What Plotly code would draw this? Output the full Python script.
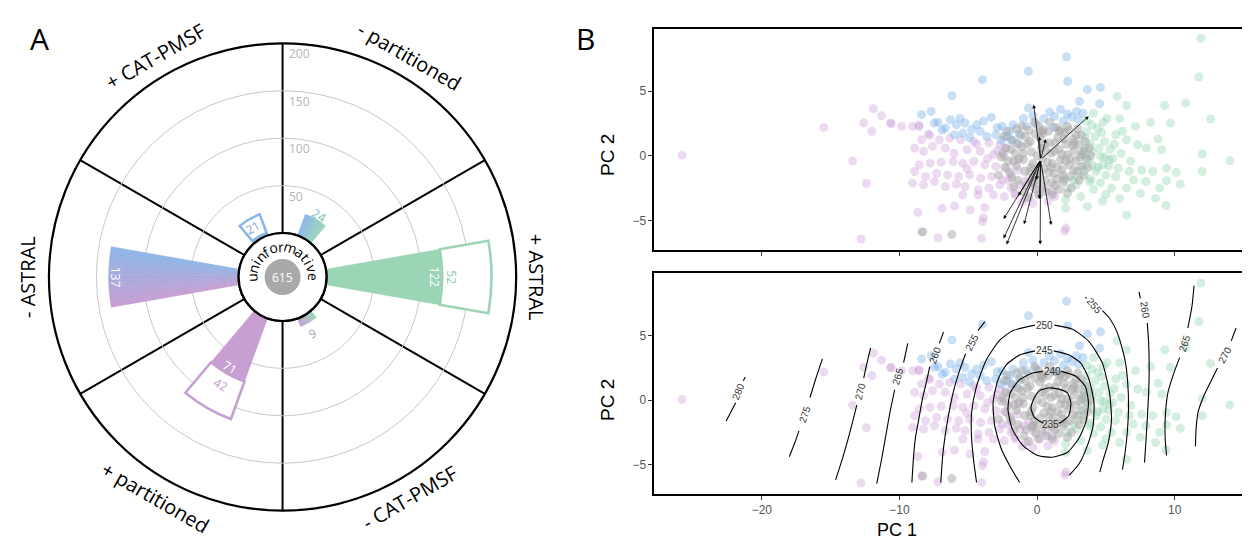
import math
import plotly.graph_objects as go

W, H = 1250, 541

# ---------------- Panel A data ----------------
categories = ["+ ASTRAL", "- partitioned", "+ CAT-PMSF", "- ASTRAL", "+ partitioned", "- CAT-PMSF"]
filled_counts = [122, 24, 3, 137, 71, 9]
outlined_counts = [52, 0, 21, 0, 42, 0]
filled_label_pos = [114, 29, None, 129, 64, 21]
outlined_label_pos = [132, None, 14, None, 84, None]
uninformative_count = 615
radial_ticks = [50, 100, 150, 200]

# ---------------- Panel B data (PC1, PC2) ----------------
purple_pc1 = [-25.8, -15.5, -12.6, -11.9, -11.3, -10.65, -12.0, -13.4, -12.4, -12.8, -9.84, -8.67, -6.9, -6.0,
              -4.86, -3.8, -3.97, -4.03, -7.2, 2.0, -9.05, -8.57, -8.4, -7.9, -7.1, -6.35, -5.55, -4.6, -3.5,
              -2.7, -2.2, -8.9, -8.25, -7.6, -6.67, -6.03, -5.08, -4.13, -3.17, -2.38, -8.57, -7.78, -6.98,
              -6.1, -5.4, -4.6, -3.8, -3.0, -2.2, -8.9, -8.1, -7.3, -6.5, -5.7, -4.9, -4.1, -3.3, -2.54, -1.9,
              -9.05, -8.25, -7.46, -6.67, -5.87, -5.24, -4.29, -3.5, -2.7, -1.9, -1.27, -0.32, 0.63, 1.1,
              -3.17, -2.38, -1.59, -0.8, 0.16, 1.27, -4.29, -5.4, -0.32, 0.79, -10.6, -8.6, -7.8, -1.4, -0.6,
              -1.6, -1.1, 2.1, -8.4, -3.9, -2.9, -3.6, -4.4, -5.1, -2.1, -1.4, -0.9]
purple_pc2 = [0.05, 2.2, 2.55, 3.65, 3.1, 2.55, 1.9, -0.4, -2.15, -6.45, 2.28, -4.38, -4.07, -3.89,
              -4.2, -4.0, -5.1, -6.4, -6.35, -5.83, 2.28, 2.28, 1.24, 1.68, 1.24, 1.37, 1.24, 1.1, 1.0,
              0.85, 0.6, 0.6, 0.34, 0.73, 0.6, 0.2, 0.47, 0.34, 0.08, -0.05, -0.7, -0.57, -0.49,
              -0.44, -0.57, -0.44, -0.7, -0.83, -0.96, -1.22, -1.6, -1.35, -1.48, -1.6, -1.48, -1.74, -1.6, -1.87, -1.48,
              -2.12, -2.25, -2.0, -2.38, -2.2, -2.38, -2.64, -2.51, -2.25, -2.51, -2.25, -2.38, -2.51, -2.77,
              -3.03, -3.16, -3.03, -3.29, -3.03, -3.16, -3.03, -3.03, -3.68, -3.55, 2.49, 2.36, 1.6, -0.3, -1.7,
              -2.9, -3.6, -5.6, -5.9, -4.8, 0.4, -0.2, 0.9, -1.0, -1.9, -1.1, -2.0]

blue_pc1 = [2.13, -0.63, -3.97, 2.22, 3.65, 4.6, -6.19, 3.08, 4.54, -0.63, 2.2, 2.86, 3.33, 1.27, 0.48,
            -8.4, -7.7, -7.46, -6.67, -5.87, -5.24, -4.76, -4.13, -3.33, -2.54, -1.75, -0.8, -3.0, -2.2,
            -5.4, -3.65, -6.0, -1.9, -6.9, -5.6, -4.4, -3.9, -2.9, -2.0, -1.3, -1.0, -0.3, 0.9, 1.7, 2.5,
            3.0, 1.9, -2.6, -1.5, -4.9, -7.2, -6.3, -0.1, 1.2]
blue_pc2 = [7.67, 6.55, 5.9, 5.78, 5.13, 5.3, 4.66, 4.22, 4.04, 3.7, 3.24, 3.44, 3.3, 3.05, 2.9,
            3.19, 3.44, 2.54, 2.15, 2.41, 2.54, 2.02, 1.89, 2.98, 2.28, 2.41, 2.28, 1.63, 1.5,
            1.76, 1.5, 1.63, 1.24, 2.0, 2.9, 2.4, 2.7, 2.2, 1.9, 1.7, 2.9, 3.1, 3.4, 3.6, 3.0,
            2.8, 2.7, 1.2, 1.0, 1.4, 2.6, 2.8, 2.5, 2.2]

green_pc1 = [11.9, 11.75, 10.8, 12.6, 9.27, 9.68, 8.25, 7.14, 6.5, 5.8, 5.08, 4.1, 4.4, 5.7, 6.5, 7.3,
             7.94, 9.05, 12.0, 14.0, 12.0, 9.4, 8.4, 7.6, 6.7, 5.9, 5.24, 4.6, 4.0, 4.76, 5.7, 7.0, 7.9,
             8.9, 9.4, 10.4, 6.5, 5.4, 3.8, 2.86, 2.2, 2.06, 3.17, 3.65, 4.76, 6.5, 9.37, 2.06, 3.5, 3.97,
             3.33, 3.6, 4.2, 4.9, 5.3, 4.5, 3.9, 3.7, 4.3, 5.0, 4.6, 3.4, 3.2, 6.1, 6.8, 5.6, 6.2, 4.8,
             3.6, 3.0, 4.1, 5.0, 6.0, 2.6, 7.5, 8.6, 10.1, 8.8, 6.0, 4.4, 5.5, 3.9, 4.7, 4.0, 4.9, 3.5, 5.2]
green_pc2 = [9.1, 6.1, 4.1, 2.85, 3.9, 2.54, 2.6, 2.28, 3.9, 4.6, 2.9, 3.3, 2.15, 1.63, 1.24, 0.85,
             0.6, 0.47, 0.13, -0.39, -1.22, -0.96, -1.2, -1.1, -1.2, -0.96, -0.31, -0.05, -0.7, -0.7, -1.6, -1.87, -2.0,
             -2.5, -1.94, -2.2, -2.5, -2.5, -2.0, -2.25, -2.5, -3.4, -3.16, -3.94, -3.5, -4.6, -3.86, -4.07, 1.37, 2.4,
             0.34, 1.9, 1.5, 1.1, 0.5, 0.6, 0.9, -0.3, -1.2, -1.5, -2.1, -1.2, -0.8, 0.2, -0.4, 0.9, 1.9, 2.6,
             2.7, -1.6, -2.6, -3.0, -3.3, -1.9, -2.9, -3.3, -1.3, 1.3, 2.9, -0.9, -0.2, -1.8, 1.8, 0.3, -0.1, 0.6, -0.8]

grey_pc1 = [-2.3, -2.1, -2.0, -1.8, -1.6, -1.5, -1.4, -1.2, -1.1, -1.0, -0.9, -0.8, -0.6, -0.5, -0.4,
            -0.3, -0.2, -0.1, 0.1, 0.2, 0.3, 0.4, 0.5, 0.6, 0.7, 0.8, 0.9, 1.0, 1.1, 1.2, 1.3, 1.4, 1.5,
            1.6, 1.7, 1.8, 1.9, 2.0, 2.1, 2.2, 2.3, 2.4, 2.5, 2.6, 2.7, 2.8, 2.9, 3.0, 3.1, 3.3, 3.4, 3.6,
            -2.6, -1.9, -0.7, 0.0, 0.6, 1.3, 1.8, 2.4, 1.5, 0.2, -0.5, -1.3, 0.9, -0.2, 2.2, -1.5, -2.4,
            3.2, 3.8, -2.8, 0.1, 1.1, -0.6, -8.3, -6.2, 1.0, 2.0, -1.0, 0.4, 1.6, 2.7, -0.3,
            -2.2, -1.7, -1.1, -0.35, 0.45, 0.55, 0.75, 1.25, 1.45, 1.95, 2.05, 2.55, 2.65, 2.85, 3.05, 3.25,
            3.5, 3.7, 3.9, -2.5, -2.35, -1.85, -1.35, -0.85, -0.15, 0.35, 1.05, 1.7, 2.3, 2.95, -0.95, 0.85,
            -0.45, 1.6, 2.2, 0.0, -1.7, 3.4, 0.3, 1.85]
grey_pc2 = [0.6, -0.4, -1.3, 1.2, 0.2, -0.8, -1.9, 1.6, 0.7, -0.3, -1.2, -2.3, 2.0, 1.1, 0.3,
            -0.6, -1.6, -2.6, 2.3, 1.4, 0.6, -0.2, -1.0, -1.9, -2.8, 1.9, 1.0, 0.2, -0.6, -1.4, -2.3, 2.2, 1.4,
            0.5, -0.3, -1.1, -2.0, 1.8, 0.9, 0.1, -0.7, -1.6, -2.5, 1.3, 0.4, -0.4, -1.2, 0.9, -0.1, -0.8, 0.4, -0.2,
            -0.1, 0.5, 0.9, 0.0, 0.4, 1.0, 0.1, -0.2, -0.9, -1.4, -1.2, -0.2, 2.6, 2.6, 2.3, 2.1, 1.5,
            1.6, 0.6, -1.5, -3.0, -3.0, -3.2, -5.9, -6.1, -0.9, -1.8, 0.2, 1.7, 1.9, 1.0, -2.0,
            1.9, -2.4, 2.3, -2.1, 2.0, 0.9, -0.5, 0.35, -1.8, 1.3, -0.4, 0.8, -1.1, 1.6, -1.9, 0.1,
            1.1, -0.9, 0.0, 0.2, -0.9, -1.7, 0.9, 1.5, 1.7, -2.4, -2.1, 2.0, 2.0, 2.1, -2.8, -1.3,
            -0.9, -2.6, -2.9, -1.9, -0.4, -1.5, 1.9, -1.5]

loading_origin = (0.25, -0.3)
loading_pc1 = [-0.25, 3.75, 0.63, 0.16, -2.44, -2.44, -2.22, -0.95, 0.22, 1.02, 0.16, -1.37, -0.06]
loading_pc2 = [3.96, 3.06, 1.3, 1.5, -4.9, -6.4, -6.87, -5.31, -6.87, -5.36, -3.34, -3.1, -1.87]

# contour segments: (level, pc1 list, pc2 list)
contour_segments = [
    (235, [0.9, 1.6, 2.2, 2.45, 2.3, 1.75, 1.55], [0.95, 0.85, 0.55, -0.2, -1.2, -1.72, -1.8]),
    (235, [0.45, -0.2, -0.45, -0.2, 0.2, 0.9], [-1.8, -1.35, -0.6, 0.2, 0.75, 0.95]),
    (240, [1.75, 2.81, 3.49, 3.73, 3.53, 3.0, 2.21, 1.13, 0.05, -1.03, -1.8, -2.12, -1.95, -1.27, -0.31, 0.4],
          [2.23, 1.85, 1.08, -0.2, -1.74, -3.03, -4.05, -4.44, -4.31, -3.54, -2.26, -0.72, 0.56, 1.59, 2.1, 2.23]),
    (245, [1.2, 2.33, 3.17, 3.77, 4.13, 4.06, 3.65, 3.05, 2.33], [3.82, 3.5, 2.87, 1.6, -0.2, -2.0, -3.54, -4.95, -5.85]),
    (245, [-0.15, -1.27, -2.24, -2.84, -3.2, -3.08, -2.6, -1.87, -1.27], [3.82, 3.5, 2.74, 1.6, -0.2, -2.0, -3.8, -5.33, -6.4]),
    (250, [-0.15, -1.75, -2.7, -3.7, -4.4, -4.76, -4.76, -4.6, -4.4], [5.82, 5.4, 4.67, 3.1, 1.08, -0.97, -3.0, -4.8, -6.4]),
    (250, [1.25, 2.57, 3.77, 4.74, 5.26, 5.4, 5.17, 4.78, 4.55], [5.82, 5.5, 4.54, 2.87, 0.56, -1.5, -3.3, -4.7, -5.6]),
    (255, [-3.8, -4.3], [6.1, 5.4]),
    (255, [-5.2, -5.6, -6.0, -6.3, -6.6, -6.85, -7.0], [3.6, 2.4, 1.0, -0.4, -2.2, -4.2, -6.4]),
    (255, [3.5, 3.6], [8.0, 7.9]),
    (255, [4.75, 5.3, 5.8, 6.1, 6.4, 6.57, 6.64, 6.55, 6.4, 6.2], [6.95, 6.3, 5.3, 4.3, 3.0, 1.5, -0.5, -2.5, -4.0, -5.4]),
    (260, [-6.8, -7.1], [5.3, 4.4]),
    (260, [-7.8, -8.0, -8.35, -8.6, -8.85, -8.97, -9.1], [2.6, 1.6, 0.0, -1.5, -3.0, -4.3, -6.4]),
    (260, [7.4, 7.5], [8.4, 7.9]),
    (260, [8.0, 8.1, 8.14, 8.1, 8.0, 7.9, 7.8], [6.0, 4.5, 2.4, 0.5, -1.5, -3.3, -4.85]),
    (265, [-9.4, -9.7], [4.4, 2.9]),
    (265, [-10.35, -10.7, -11.0, -11.3, -11.65], [0.8, -1.0, -2.8, -4.6, -6.5]),
    (265, [11.4, 11.25, 10.95], [8.9, 7.3, 5.6]),
    (265, [10.35, 9.9, 9.5, 9.3, 9.3, 9.4], [3.3, 2.0, 0.57, -1.5, -3.0, -4.3]),
    (270, [-12.1, -12.4, -12.6], [4.05, 2.7, 1.7]),
    (270, [-13.1, -13.6, -14.1, -14.64], [-0.4, -2.5, -4.4, -6.2]),
    (270, [14.45, 14.1], [5.6, 4.6]),
    (270, [13.1, 12.6, 12.1, 11.7, 11.55, 11.5], [2.5, 1.4, 0.3, -0.9, -2.2, -3.6]),
    (275, [-15.6, -16.1, -16.5], [3.2, 1.6, 0.2]),
    (275, [-17.3, -17.6, -18.0], [-2.4, -3.3, -4.4]),
    (280, [-21.2, -21.35], [1.8, 1.5]),
    (280, [-21.9, -22.6], [-0.2, -1.65]),
]
contour_label_text = ["280", "275", "270", "265", "260", "255", "250", "245", "240", "235", "255", "260", "265", "270"]
contour_label_pc1 = [-21.7, -16.9, -12.85, -10.1, -7.45, -4.75, 0.53, 0.53, 1.08, 1.0, 4.15, 7.8, 10.7, 13.6]
contour_label_pc2 = [0.65, -1.1, 0.65, 1.8, 3.5, 4.5, 5.82, 3.82, 2.23, -1.9, 7.35, 7.0, 4.4, 3.5]
contour_label_angle = [-68, -72, -76, -74, -70, -62, 0, 0, 0, 0, 50, 82, -72, -62]

# ---------------- styling ----------------
GREEN = (155, 213, 181)
BLUE = (141, 183, 231)
PURPLE = (199, 159, 211)
anchor_cols = {0: GREEN, 120: BLUE, 240: PURPLE, 360: GREEN}


def rgb(c, a=1.0):
    return f"rgba({int(round(c[0]))},{int(round(c[1]))},{int(round(c[2]))},{a})"


def lerp(c1, c2, t):
    return tuple(c1[i] + (c2[i] - c1[i]) * t for i in range(3))


def paper(px, py):
    return px / W, 1 - py / H


def ann(px, py, text, size, color, angle=0, xanchor="center", family="Open Sans"):
    x, y = paper(px, py)
    return dict(x=x, y=y, xref="paper", yref="paper", text=text, showarrow=False, textangle=angle,
                xanchor=xanchor, yanchor="middle", font=dict(family=family, size=size, color=color))


CX, CY = 275, 269
R_OUT = 234
HOLE_PX = 44
RMAX = radial_ticks[-1]
BAR_W = 20


def polar_px(value, ang):
    r = HOLE_PX + value * (R_OUT - HOLE_PX) / RMAX
    return CX + r * math.cos(math.radians(ang)), CY - r * math.sin(math.radians(ang))


fig = go.Figure()
annotations = []
shapes = []

# --- polar bars ---
for i, cat in enumerate(categories):
    c = i * 60
    if c % 120 == 0:
        col = anchor_cols[c]
        fig.add_trace(go.Barpolar(r=[filled_counts[i]], theta=[c], width=[BAR_W], base=[0],
                                  marker=dict(color=rgb(col), line=dict(color=rgb(col), width=0.5)),
                                  subplot="polar", showlegend=False, hoverinfo="skip"))
    else:
        c1 = anchor_cols[c - 60]
        c2 = anchor_cols[c + 60]
        n = 20
        thetas, cols = [], []
        for k in range(n):
            t = (k + 0.5) / n
            thetas.append(c - BAR_W / 2 + BAR_W * t)
            cols.append(rgb(lerp(c1, c2, t)))
        fig.add_trace(go.Barpolar(r=[filled_counts[i]] * n, theta=thetas, width=[BAR_W / n] * n, base=[0] * n,
                                  marker=dict(color=cols, line=dict(color=cols, width=0.6)),
                                  subplot="polar", showlegend=False, hoverinfo="skip"))
    if outlined_counts[i] > 0:
        col = anchor_cols[c]
        fig.add_trace(go.Barpolar(r=[outlined_counts[i]], theta=[c], width=[BAR_W], base=[filled_counts[i]],
                                  marker=dict(color="white", line=dict(color=rgb(col), width=2.6)),
                                  subplot="polar", showlegend=False, hoverinfo="skip"))

# --- polar bar labels ---
label_specs = [
    (filled_label_pos[0], 0, str(filled_counts[0]), "white", 90),
    (outlined_label_pos[0], 0, str(outlined_counts[0]), "#86c9a4", 90),
    (filled_label_pos[1], 59, str(filled_counts[1]), "#78bdb4", 30),
    (outlined_label_pos[2], 121, str(outlined_counts[2]), "#6fa6dc", -30),
    (filled_label_pos[3], 180, str(filled_counts[3]), "white", 90),
    (filled_label_pos[4], 240, str(filled_counts[4]), "white", 30),
    (outlined_label_pos[4], 240, str(outlined_counts[4]), "#c497cf", 30),
    (filled_label_pos[5], 298, str(filled_counts[5]), "#a9a4b9", -20),
]
for val, ang, txt, col, ta in label_specs:
    px, py = polar_px(val, ang)
    annotations.append(ann(px, py, txt, 12, col, ta))

# --- radial tick labels ---
for v in radial_ticks:
    px, py = polar_px(v, 90)
    annotations.append(ann(px + 4, py + 11, str(v), 12, "#b4b4b4", 0, xanchor="left"))

# --- category labels around the circle ---
R_LAB = 255
for i, cat in enumerate(categories):
    ang = i * 60
    px = CX + R_LAB * math.cos(math.radians(ang))
    py = CY - R_LAB * math.sin(math.radians(ang))
    s = math.sin(math.radians(ang))
    if abs(s) < 1e-9:
        ta = 90 if ang == 0 else -90
    elif s > 0:
        ta = 90 - ang
    else:
        ta = 270 - ang
    annotations.append(ann(px, py, cat, 20, "black", ta))

# --- centre: hole circle, grey disk, count, curved word ---
def circ_shape(r, fill, line_col, lw):
    x0, y0 = paper(CX - r, CY + r)
    x1, y1 = paper(CX + r, CY - r)
    return dict(type="circle", xref="paper", yref="paper", x0=x0, y0=y0, x1=x1, y1=y1,
                fillcolor=fill, line=dict(color=line_col, width=lw), layer="above")

shapes.append(circ_shape(HOLE_PX, "white", "black", 2.2))
shapes.append(circ_shape(18, "#a9a9a9", "rgba(0,0,0,0)", 0))
annotations.append(ann(CX, CY, str(uninformative_count), 12, "white"))

word = "uninformative"
widths = {"u": 0.61, "n": 0.61, "i": 0.26, "f": 0.34, "o": 0.6, "r": 0.41, "m": 0.93, "a": 0.56,
          "t": 0.36, "v": 0.5, "e": 0.56}
wts = [widths[ch] + 0.25 for ch in word]
tot = sum(wts)
start_ang, end_ang = 190.0, -8.0
acc = 0.0
for ch, w in zip(word, wts):
    frac = (acc + w / 2) / tot
    acc += w
    ang = start_ang + (end_ang - start_ang) * frac
    px = CX + 30.5 * math.cos(math.radians(ang))
    py = CY - 30.5 * math.sin(math.radians(ang))
    annotations.append(ann(px, py, ch, 14, "black", 90 - ang))

# --- panel letters ---
annotations.append(ann(32, 30, "A", 30, "black"))
annotations.append(ann(578, 30, "B", 30, "black"))

# ---------------- Panel B ----------------
groups = [
    (purple_pc1, purple_pc2, "rgba(200,150,212,0.34)"),
    (blue_pc1, blue_pc2, "rgba(112,172,232,0.38)"),
    (green_pc1, green_pc2, "rgba(128,204,162,0.34)"),
    (grey_pc1, grey_pc2, "rgba(165,165,165,0.5)"),
]
for xa, ya in [("x", "y"), ("x2", "y2")]:
    for gx, gy, col in groups:
        fig.add_trace(go.Scatter(x=gx, y=gy, mode="markers", xaxis=xa, yaxis=ya, showlegend=False,
                                 marker=dict(size=9, color=col, line=dict(width=0)), hoverinfo="skip"))

for lvl, cx_, cy_ in contour_segments:
    fig.add_trace(go.Scatter(x=cx_, y=cy_, mode="lines", xaxis="x2", yaxis="y2", showlegend=False,
                             line=dict(color="black", width=1.1, shape="spline", smoothing=0.6),
                             hoverinfo="skip"))

for t, lx, ly, la in zip(contour_label_text, contour_label_pc1, contour_label_pc2, contour_label_angle):
    annotations.append(dict(x=lx, y=ly, xref="x2", yref="y2", text=t, showarrow=False, textangle=la,
                            xanchor="center", yanchor="middle",
                            font=dict(family="Liberation Sans", size=10, color="#333333")))

for hx, hy in zip(loading_pc1, loading_pc2):
    annotations.append(dict(x=hx, y=hy, ax=loading_origin[0], ay=loading_origin[1], xref="x", yref="y",
                            axref="x", ayref="y", text="", showarrow=True, arrowhead=2, arrowsize=0.9,
                            arrowwidth=0.8, arrowcolor="black"))

FB = "Liberation Sans Narrow, Liberation Sans"
annotations.append(ann(600, 147, "PC 2", 19, "black", -90, family=FB))
annotations.append(ann(600, 392, "PC 2", 19, "black", -90, family=FB))
annotations.append(ann(890, 522, "PC 1", 18, "black", 0, family=FB))

XR = [-27.8, 15.9]
YR = [-7.3, 9.85]
xdom = [647.5 / W, 1.0]
ydom_top = [1 - 242 / H, 1 - 20.7 / H]
ydom_bot = [1 - 486 / H, 1 - 265.3 / H]
axis_common = dict(showgrid=False, zeroline=False, showline=True, mirror=True, linecolor="black",
                   linewidth=2, ticks="outside", ticklen=4, tickcolor="#333333", tickwidth=1,
                   tickfont=dict(family="Liberation Sans", size=12, color="#555555"))

pd_x0, pd_y0 = (CX - R_OUT) / W, 1 - (CY + R_OUT) / H
pd_x1, pd_y1 = (CX + R_OUT) / W, 1 - (CY - R_OUT) / H

fig.update_layout(
    width=W, height=H, margin=dict(l=0, r=0, t=0, b=0),
    paper_bgcolor="white", plot_bgcolor="white",
    polar=dict(
        domain=dict(x=[pd_x0, pd_x1], y=[pd_y0, pd_y1]),
        hole=HOLE_PX / R_OUT,
        bgcolor="white",
        radialaxis=dict(range=[0, RMAX], tickvals=radial_ticks, showticklabels=False, ticks="",
                        showline=False, gridcolor="#c8c8c8", gridwidth=1),
        angularaxis=dict(rotation=0, direction="counterclockwise", tickvals=[30, 90, 150, 210, 270, 330],
                         showticklabels=False, ticks="", gridcolor="black", gridwidth=1.8,
                         showline=True, linecolor="black", linewidth=2.2),
    ),
    xaxis=dict(domain=xdom, range=XR, anchor="y", tickvals=[-20, -10, 0, 10], showticklabels=False, **axis_common),
    yaxis=dict(domain=ydom_top, range=YR, anchor="x", tickvals=[-5, 0, 5], **axis_common),
    xaxis2=dict(domain=xdom, range=XR, anchor="y2", tickvals=[-20, -10, 0, 10], **axis_common),
    yaxis2=dict(domain=ydom_bot, range=YR, anchor="x2", tickvals=[-5, 0, 5], **axis_common),
    annotations=annotations,
    shapes=shapes,
    bargap=0,
)

fig.write_html("out.html")
